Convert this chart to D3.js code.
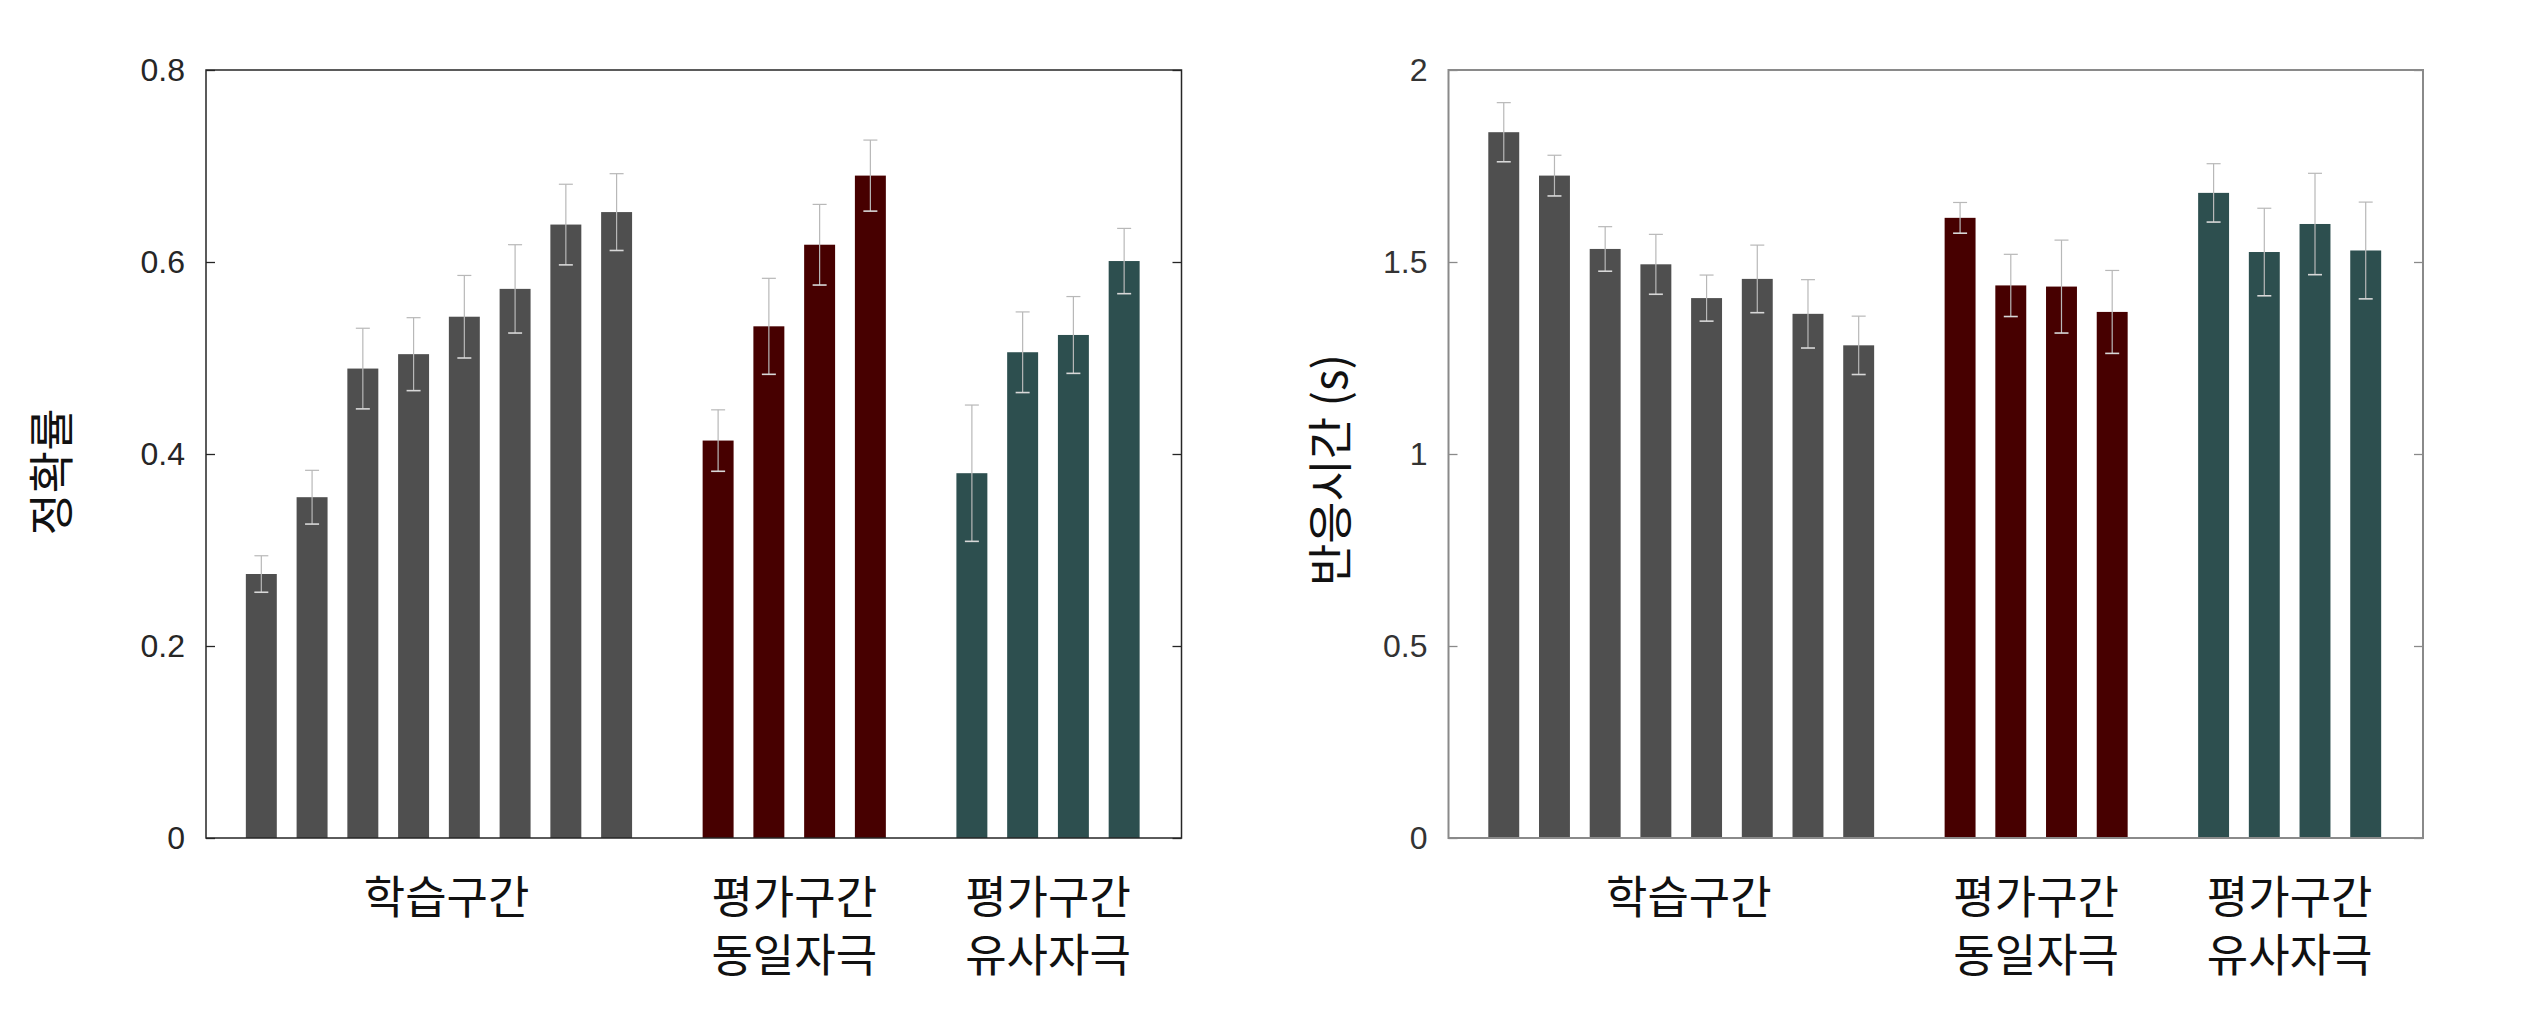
<!DOCTYPE html>
<html>
<head>
<meta charset="utf-8">
<script src="https://cdn.jsdelivr.net/npm/d3@7/dist/d3.min.js"></script>
<style>
  html, body { margin: 0; padding: 0; background: #ffffff; }
  svg { display: block; }
</style>
</head>
<body>
<svg id="chart" width="2541" height="1012"></svg>
<script>
// ---- data ----
const barPositions = [1, 2, 3, 4, 5, 6, 7, 8, 10, 11, 12, 13, 15, 16, 17, 18];
const barGroups = ["learn","learn","learn","learn","learn","learn","learn","learn",
                   "same","same","same","same","similar","similar","similar","similar"];
const accuracyMean = [0.275, 0.355, 0.489, 0.504, 0.543, 0.572, 0.639, 0.652,
                      0.414, 0.533, 0.618, 0.690,
                      0.380, 0.506, 0.524, 0.601];
const accuracyErr  = [0.019, 0.028, 0.042, 0.038, 0.043, 0.046, 0.042, 0.040,
                      0.032, 0.050, 0.042, 0.037,
                      0.071, 0.042, 0.040, 0.034];
const rtMean = [1.838, 1.725, 1.534, 1.494, 1.406, 1.456, 1.365, 1.283,
                1.615, 1.439, 1.436, 1.370,
                1.680, 1.526, 1.599, 1.530];
const rtErr  = [0.077, 0.053, 0.058, 0.078, 0.060, 0.088, 0.089, 0.076,
                0.040, 0.081, 0.121, 0.108,
                0.076, 0.114, 0.132, 0.126];
const accuracyTicks = [0, 0.2, 0.4, 0.6, 0.8];
const rtTicks = [0, 0.5, 1, 1.5, 2];
const categoryLabels = [["학습구간"], ["평가구간", "동일자극"], ["평가구간", "유사자극"]];
const categoryPositions = [4.65, 11.5, 16.5];
const accuracyTitle = "정확률";
const rtTitle = "반응시간 (s)";

// ---- styles ----
const groupColor = { learn: "#4f4f4f", same: "#470000", similar: "#2d4f4f" };
const svg = d3.select("#chart");
const plotTop = 70, plotBottom = 838;
const xDomain = [-0.09, 19.13];
const barWidthUnits = 0.61;

function drawPanel(opt) {
  const g = svg.append("g");
  const x = d3.scaleLinear().domain(xDomain).range([opt.left, opt.right]);
  const y = d3.scaleLinear().domain(opt.yDomain).range([plotBottom, plotTop]);
  const bw = x(barWidthUnits) - x(0);

  const data = barPositions.map((p, i) => ({ p, g: barGroups[i], m: opt.mean[i], e: opt.err[i] }));

  // bars
  g.selectAll("rect.bar").data(data).enter().append("rect")
    .attr("class", "bar")
    .attr("x", d => x(d.p) - bw / 2)
    .attr("width", bw)
    .attr("y", d => y(d.m))
    .attr("height", d => y(0) - y(d.m))
    .attr("fill", d => groupColor[d.g]);

  // error bars
  const capW = 7;
  const eb = g.selectAll("g.err").data(data).enter().append("g").attr("class", "err")
    .attr("stroke", "#b8b8b8").attr("stroke-width", 1.2);
  eb.append("line")
    .attr("x1", d => x(d.p)).attr("x2", d => x(d.p))
    .attr("y1", d => y(d.m + d.e)).attr("y2", d => y(d.m - d.e));
  eb.append("line")
    .attr("x1", d => x(d.p) - capW).attr("x2", d => x(d.p) + capW)
    .attr("y1", d => y(d.m + d.e)).attr("y2", d => y(d.m + d.e));
  eb.append("line")
    .attr("x1", d => x(d.p) - capW).attr("x2", d => x(d.p) + capW)
    .attr("y1", d => y(d.m - d.e)).attr("y2", d => y(d.m - d.e))
    .attr("stroke", "#d8d8d8").attr("stroke-width", 1.6);

  // left axis with inward ticks
  const yAxisL = d3.axisLeft(y).tickValues(opt.ticks).tickSize(-9).tickPadding(21)
    .tickFormat(d3.format("~g"));
  const gl = g.append("g").attr("transform", `translate(${opt.left},0)`).call(yAxisL);
  gl.select(".domain").remove();
  gl.selectAll(".tick line").attr("stroke", opt.axisColor).attr("stroke-width", 1.3);
  gl.selectAll(".tick text")
    .attr("font-family", "'Liberation Sans', Arial, Helvetica, sans-serif")
    .attr("font-size", 32).attr("fill", opt.textColor);

  const yAxisR = d3.axisRight(y).tickValues(opt.ticks).tickSize(-9).tickFormat("");
  const gr = g.append("g").attr("transform", `translate(${opt.right},0)`).call(yAxisR);
  gr.select(".domain").remove();
  gr.selectAll(".tick line").attr("stroke", opt.axisColor).attr("stroke-width", 1.3);

  // box
  g.append("rect")
    .attr("x", opt.left).attr("y", plotTop)
    .attr("width", opt.right - opt.left).attr("height", plotBottom - plotTop)
    .attr("fill", "none").attr("stroke", opt.axisColor).attr("stroke-width", opt.boxWidth);

  // category labels
  categoryLabels.forEach((lines, i) => {
    const t = g.append("text")
      .attr("x", x(categoryPositions[i]))
      .attr("y", 914)
      .attr("text-anchor", "middle")
      .attr("font-family", "'Noto Sans CJK KR', 'Noto Sans CJK SC', sans-serif")
      .attr("font-size", 45)
      .attr("fill", "#111");
    lines.forEach((ln, j) => {
      t.append("tspan").attr("x", x(categoryPositions[i])).attr("y", 914 + j * 58).text(ln);
    });
  });

  // y title
  g.append("text")
    .attr("transform", `translate(${opt.titleX},${opt.titleY}) rotate(-90)`)
    .attr("text-anchor", "middle")
    .attr("dominant-baseline", "central")
    .attr("font-family", "'Noto Sans CJK KR', 'Noto Sans CJK SC', sans-serif")
    .attr("font-size", 46)
    .attr("fill", "#111")
    .text(opt.title);
}

drawPanel({
  left: 206, right: 1181.5, yDomain: [0, 0.8], ticks: accuracyTicks,
  mean: accuracyMean, err: accuracyErr, axisColor: "#262626", boxWidth: 1.5,
  textColor: "#262626", title: accuracyTitle, titleX: 48, titleY: 472
});
drawPanel({
  left: 1448.5, right: 2423, yDomain: [0, 2], ticks: rtTicks,
  mean: rtMean, err: rtErr, axisColor: "#8a8a8a", boxWidth: 2,
  textColor: "#333333", title: rtTitle, titleX: 1327, titleY: 470
});
</script>
</body>
</html>
